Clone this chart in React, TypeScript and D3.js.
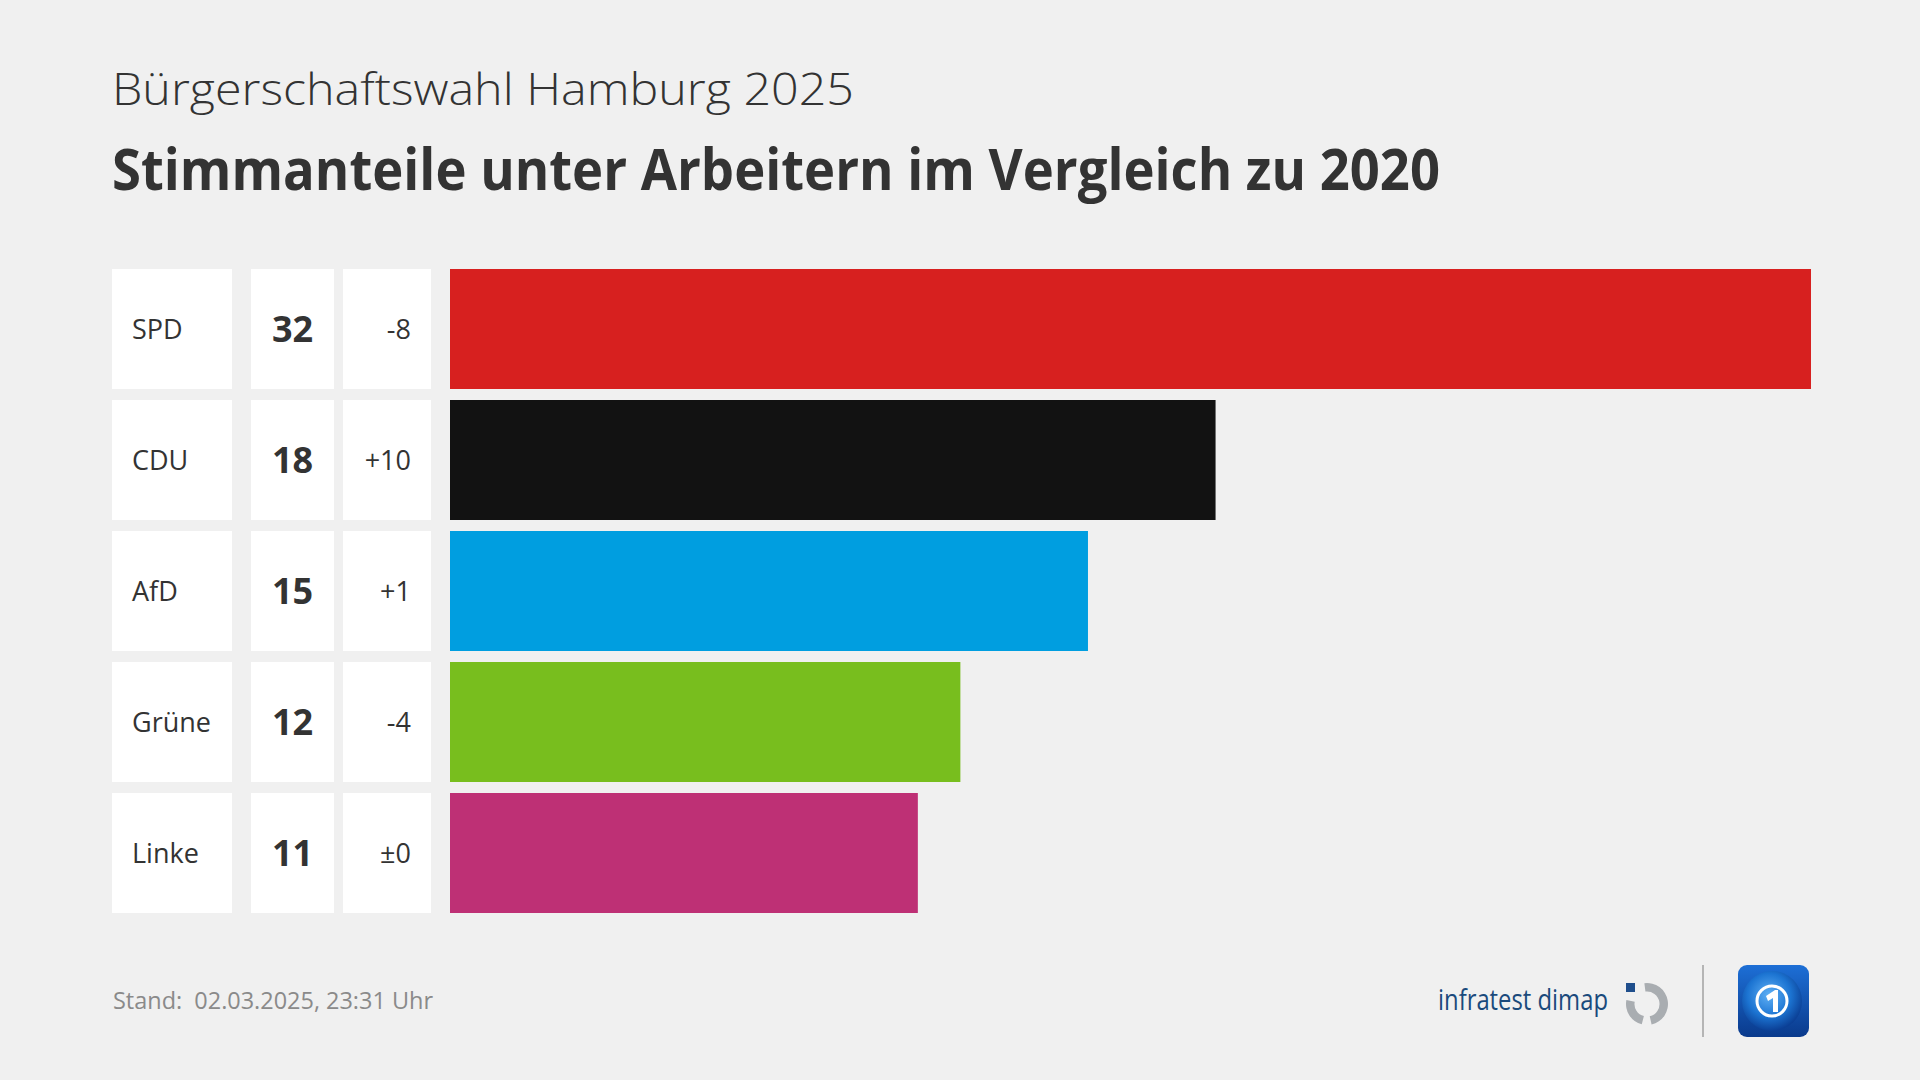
import React from "react";
import * as d3 from "d3";

const parties = ["SPD", "CDU", "AfD", "Grüne", "Linke"];
const shares = [32, 18, 15, 12, 11];
const changes = ["-8", "+10", "+1", "-4", "±0"];
const colors = ["#d7201f", "#121212", "#009ee0", "#78be1e", "#be3075"];

const subtitle = "Bürgerschaftswahl Hamburg 2025";
const title = "Stimmanteile unter Arbeitern im Vergleich zu 2020";
const footer = "Stand:  02.03.2025, 23:31 Uhr";

const FONT = "'Open Sans', 'Noto Sans', sans-serif";
const TXT = "#333333";

export default function App() {
  const x = d3.scaleLinear().domain([0, 32]).range([0, 1361]);
  const y = d3
    .scaleBand<string>()
    .domain(parties)
    .range([269, 913])
    .paddingInner(11 / 131)
    .paddingOuter(0);
  const bw = y.bandwidth();

  const ringArc = d3.arc().innerRadius(12.5).outerRadius(21);
  const rightPart = ringArc({ startAngle: -0.04 * Math.PI, endAngle: 0.93 * Math.PI } as any) || "";
  const leftPart = ringArc({ startAngle: 1.08 * Math.PI, endAngle: 1.56 * Math.PI } as any) || "";

  return (
    <svg
      width={1920}
      height={1080}
      style={{ position: "absolute", left: 0, top: 0, background: "#f0f0f0" }}
      fontFamily={FONT}
    >
      <defs>
        <linearGradient id="tsBg" x1="0" y1="0" x2="0" y2="1">
          <stop offset="0" stopColor="#1d6fd6" />
          <stop offset="1" stopColor="#0a3a8c" />
        </linearGradient>
        <radialGradient id="tsGlobe" cx="0.45" cy="0.4" r="0.6">
          <stop offset="0" stopColor="#5fb0f5" />
          <stop offset="0.6" stopColor="#1c74d2" />
          <stop offset="1" stopColor="#0b3f95" />
        </radialGradient>
      </defs>
      <rect x={0} y={0} width={1920} height={1080} fill="#f0f0f0" />

      <text x={112} y={105} fontSize={45} fontWeight={300} fill={TXT} textLength={742} lengthAdjust="spacingAndGlyphs">
        {subtitle}
      </text>
      <text x={112} y={190} fontSize={58} fontWeight={700} fill={TXT} textLength={1328} lengthAdjust="spacingAndGlyphs">
        {title}
      </text>

      {parties.map((p, i) => {
        const top = y(p) as number;
        const cy = top + bw / 2;
        return (
          <g key={p}>
            <rect x={112} y={top} width={120} height={bw} fill="#ffffff" />
            <rect x={251} y={top} width={83} height={bw} fill="#ffffff" />
            <rect x={343} y={top} width={88} height={bw} fill="#ffffff" />
            <rect x={450} y={top} width={x(shares[i])} height={bw} fill={colors[i]} />
            <text x={132} y={cy} dy="0.36em" fontSize={27} fill={TXT}>
              {p}
            </text>
            <text x={292.5} y={cy} dy="0.36em" fontSize={36} fontWeight={700} fill={TXT} textAnchor="middle">
              {shares[i]}
            </text>
            <text x={411} y={cy} dy="0.36em" fontSize={27} fill={TXT} textAnchor="end">
              {changes[i]}
            </text>
          </g>
        );
      })}

      <text
        x={113}
        y={1009}
        fontSize={24}
        fill="#8a8a8a"
        textLength={320}
        lengthAdjust="spacingAndGlyphs"
        style={{ whiteSpace: "pre" }}
      >
        {footer}
      </text>

      {/* infratest dimap logo */}
      <text x={1438} y={1010} fontSize={29} fontWeight={500} fill="#1a4a7c" textLength={170} lengthAdjust="spacingAndGlyphs">
        infratest dimap
      </text>
      <g transform="translate(1647,1004)">
        <path d={rightPart} fill="#a9adb1" />
        <path d={leftPart} fill="#a9adb1" />
      </g>
      <rect x={1626} y={983} width={9} height={9} fill="#1f4e8c" />

      <line x1={1703} y1={965} x2={1703} y2={1037} stroke="#b5b5b5" strokeWidth={2} />

      {/* tagesschau app icon */}
      <rect x={1738} y={965} width={71} height={72} rx={9} fill="url(#tsBg)" />
      <circle cx={1772} cy={1001} r={30} fill="url(#tsGlobe)" />
      <circle cx={1772} cy={1001} r={15} fill="none" stroke="#ffffff" strokeWidth={3} />
      <path d="M1766 996 L1775 990 L1778 990 L1778 1012 L1773 1012 L1773 998 L1768 1001 Z" fill="#ffffff" />
    </svg>
  );
}
